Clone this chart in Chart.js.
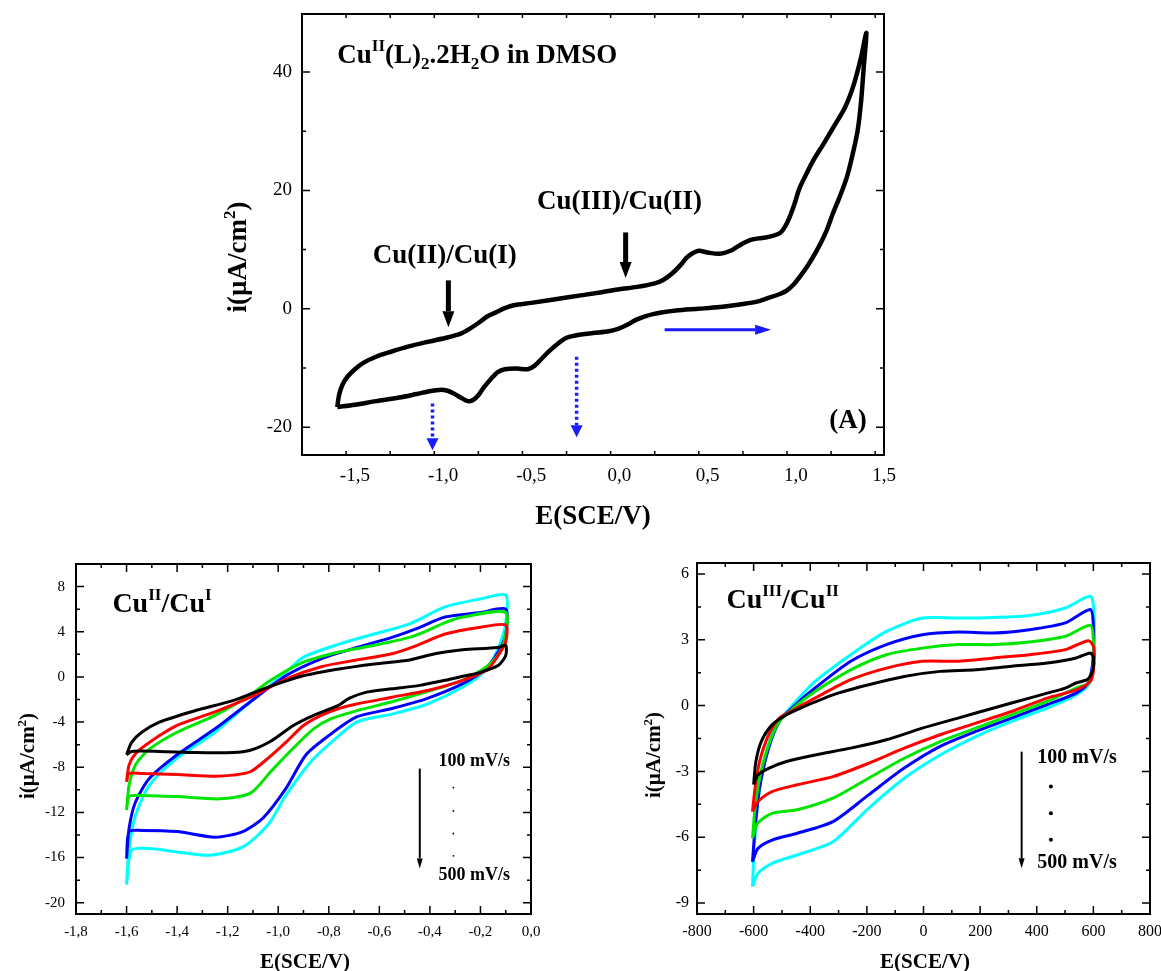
<!DOCTYPE html>
<html>
<head>
<meta charset="utf-8">
<script src="https://cdn.jsdelivr.net/npm/chart.js@4.4.1/dist/chart.umd.min.js"></script>
<style>
  body { margin: 0; background: #fff; overflow: hidden; }
  #wrap { position: relative; width: 1161px; height: 971px; overflow: hidden; }
  canvas { position: absolute; }
</style>
</head>
<body>
<div id="wrap">
  <canvas id="cvA" width="700" height="540" style="left:200px;top:0"></canvas>
  <canvas id="cvB" width="560" height="426" style="left:0;top:545px"></canvas>
  <canvas id="cvC" width="575" height="426" style="left:600px;top:545px"></canvas>
</div>
<script>
// ---- panel A : CV of Cu(II)(L)2.2H2O in DMSO, E (V) / i (uA/cm2) ----
const loopA = [
  [-1.60,-16.6],[-1.50,-16.2],[-1.38,-15.6],[-1.25,-15.0],[-1.15,-14.4],[-1.07,-13.9],[-1.02,-13.7],
  [-0.98,-13.8],[-0.94,-14.3],[-0.90,-15.0],[-0.86,-15.6],[-0.83,-15.4],[-0.80,-14.6],[-0.77,-13.3],
  [-0.73,-11.9],[-0.69,-10.7],[-0.65,-10.2],[-0.58,-10.1],[-0.52,-10.2],[-0.48,-9.6],[-0.44,-8.4],
  [-0.40,-7.2],[-0.35,-5.9],[-0.30,-4.9],[-0.25,-4.5],[-0.15,-4.1],[-0.06,-3.8],[0.00,-3.3],
  [0.05,-2.6],[0.10,-1.8],[0.19,-0.9],[0.32,-0.3],[0.45,0.0],[0.57,0.3],[0.70,0.8],[0.78,1.2],
  [0.84,1.8],[0.91,2.5],[0.95,3.1],[0.99,4.2],[1.02,5.3],[1.07,7.4],[1.12,9.9],[1.17,12.9],
  [1.21,16.1],[1.25,19.0],[1.29,22.3],[1.32,25.8],[1.35,30.0],[1.37,35.0],[1.385,40.8],[1.40,46.6],
  [1.37,42.5],[1.33,38.0],[1.28,34.1],[1.21,30.5],[1.16,28.0],[1.10,25.1],[1.06,22.8],[1.02,20.3],
  [0.99,17.5],[0.95,14.5],[0.91,12.8],[0.84,12.1],[0.79,11.9],[0.74,11.6],[0.68,10.7],[0.63,9.8],
  [0.57,9.3],[0.50,9.5],[0.45,9.8],[0.41,9.3],[0.38,8.6],[0.35,7.5],[0.30,6.0],[0.25,4.9],
  [0.20,4.3],[0.10,3.7],[0.00,3.3],[-0.10,2.8],[-0.30,1.9],[-0.50,1.0],[-0.60,0.6],[-0.65,0.1],
  [-0.70,-0.6],[-0.75,-1.3],[-0.80,-2.4],[-0.85,-3.4],[-0.90,-4.2],[-0.97,-4.8],[-1.09,-5.6],
  [-1.20,-6.4],[-1.30,-7.3],[-1.38,-8.1],[-1.45,-9.1],[-1.50,-10.2],[-1.54,-11.4],[-1.57,-12.8],
  [-1.59,-14.6],[-1.60,-16.6]
];
const ticksAx = [-1.5, -1.0, -0.5, 0.0, 0.5, 1.0, 1.5];
const ticksAy = [-20, 0, 20, 40];
// annotation arrows of panel A: [E, i start, i end]
const blackArrowsA = [[-0.97, 4.8, -3.1], [0.035, 12.9, 5.2]];
const blueDotArrowsA = [[-1.06, -16.0, -23.9], [-0.243, -8.1, -21.7]];
const blueScanArrowA = [0.256, 0.86, -3.56];

// ---- panel B : Cu(II)/Cu(I), 100..500 mV/s ----
const rateLabels = ['100 mV/s', '200 mV/s', '300 mV/s', '400 mV/s', '500 mV/s'];
const rateColors = ['#000000', '#ff0000', '#00e600', '#0000ff', '#00ffff'];
const loopB100 = [
  [-1.60,-6.9],[-1.58,-5.8],[-1.54,-4.9],[-1.47,-4.0],[-1.33,-3.0],[-1.18,-2.1],[-1.04,-0.9],[-0.90,0.1],
  [-0.76,0.7],[-0.62,1.15],[-0.48,1.5],[-0.41,1.9],[-0.34,2.2],[-0.27,2.4],[-0.13,2.6],[-0.10,2.8],
  [-0.10,1.9],[-0.13,1.0],[-0.20,0.4],[-0.27,0.05],[-0.34,-0.3],[-0.44,-0.75],[-0.55,-1.05],[-0.65,-1.35],
  [-0.72,-1.9],[-0.76,-2.5],[-0.86,-3.4],[-0.94,-4.3],[-1.03,-5.7],[-1.11,-6.5],[-1.18,-6.7],[-1.33,-6.7],
  [-1.47,-6.6],[-1.58,-6.6],[-1.60,-6.9]
];
const loopB200 = [
  [-1.60,-9.3],[-1.59,-7.8],[-1.565,-6.8],[-1.51,-5.8],[-1.40,-4.3],[-1.25,-3.1],[-1.11,-1.8],[-0.97,-0.2],
  [-0.83,0.9],[-0.69,1.5],[-0.55,2.05],[-0.45,2.8],[-0.34,3.8],[-0.20,4.4],[-0.10,4.6],
  [-0.10,3.1],[-0.13,1.9],[-0.17,0.7],[-0.27,-0.3],[-0.41,-1.2],[-0.55,-1.8],[-0.69,-2.4],[-0.76,-2.8],
  [-0.83,-3.4],[-0.90,-4.3],[-0.97,-5.8],[-1.04,-7.2],[-1.11,-8.4],[-1.18,-8.7],[-1.25,-8.8],[-1.40,-8.65],
  [-1.54,-8.55],[-1.59,-8.55],[-1.60,-9.3]
];
const loopB300 = [
  [-1.60,-11.8],[-1.59,-9.6],[-1.565,-7.8],[-1.51,-6.4],[-1.40,-4.9],[-1.25,-3.4],[-1.11,-1.6],[-1.03,-0.3],
  [-0.90,1.3],[-0.76,2.2],[-0.62,2.8],[-0.48,3.5],[-0.41,4.1],[-0.34,4.8],[-0.27,5.3],[-0.10,5.7],
  [-0.11,2.8],[-0.155,1.3],[-0.21,0.4],[-0.27,-0.3],[-0.41,-1.3],[-0.55,-2.2],[-0.69,-3.0],[-0.79,-3.7],
  [-0.86,-4.6],[-0.94,-6.3],[-1.03,-8.4],[-1.11,-10.3],[-1.23,-10.8],[-1.40,-10.6],[-1.54,-10.5],
  [-1.59,-10.6],[-1.60,-11.8]
];
const loopB400 = [
  [-1.60,-16.1],[-1.59,-13.4],[-1.565,-11.1],[-1.51,-9.0],[-1.40,-6.9],[-1.25,-4.6],[-1.11,-2.2],[-0.97,0.1],
  [-0.83,1.6],[-0.69,2.6],[-0.55,3.5],[-0.45,4.3],[-0.34,5.3],[-0.20,5.7],[-0.10,6.0],
  [-0.10,3.7],[-0.13,2.2],[-0.18,0.7],[-0.27,-0.6],[-0.41,-1.9],[-0.55,-2.8],[-0.69,-3.55],[-0.80,-5.2],
  [-0.89,-6.9],[-0.97,-9.9],[-1.06,-12.5],[-1.14,-13.7],[-1.25,-14.2],[-1.40,-13.7],[-1.54,-13.6],
  [-1.59,-13.7],[-1.60,-16.1]
];
const loopB500 = [
  [-1.60,-18.4],[-1.59,-15.2],[-1.565,-12.3],[-1.51,-9.6],[-1.40,-7.2],[-1.25,-4.9],[-1.11,-2.2],[-0.97,0.4],
  [-0.90,1.75],[-0.76,2.9],[-0.62,3.8],[-0.48,4.7],[-0.34,6.2],[-0.20,6.9],[-0.10,7.25],
  [-0.10,4.8],[-0.13,2.5],[-0.18,0.6],[-0.27,-0.9],[-0.41,-2.4],[-0.55,-3.3],[-0.69,-4.0],[-0.79,-5.8],
  [-0.87,-7.5],[-0.97,-10.5],[-1.04,-13.1],[-1.14,-15.05],[-1.27,-15.8],[-1.40,-15.5],[-1.51,-15.2],
  [-1.58,-15.35],[-1.60,-18.4]
];
const ticksBx = [-1.8, -1.6, -1.4, -1.2, -1.0, -0.8, -0.6, -0.4, -0.2, 0.0];
const ticksBy = [-20, -16, -12, -8, -4, 0, 4, 8];

// ---- panel C : Cu(III)/Cu(II), E in mV ----
const loopC100 = [
  [-600,-3.6],[-592,-2.55],[-573,-1.64],[-535,-0.88],[-484,-0.42],[-434,-0.11],[-320,0.49],[-194,0.95],
  [-68,1.33],[59,1.56],[185,1.63],[311,1.79],[437,1.94],[539,2.17],[589,2.4],
  [600,2.2],[598,1.6],[580,1.2],[539,1.03],[501,0.8],[437,0.57],[374,0.34],[248,-0.11],[122,-0.57],
  [-4,-1.03],[-131,-1.56],[-257,-1.94],[-383,-2.25],[-484,-2.55],[-547,-2.86],[-585,-3.16],[-600,-3.6]
];
const loopC200 = [
  [-604,-4.83],[-595,-3.77],[-579,-2.55],[-547,-1.33],[-509,-0.57],[-459,-0.19],[-383,0.34],[-257,1.18],
  [-131,1.71],[-4,2.02],[122,2.02],[248,2.17],[374,2.32],[501,2.55],[583,2.96],
  [602,2.62],[600,1.6],[589,1.1],[539,0.72],[437,0.34],[311,-0.27],[185,-0.8],[59,-1.33],[-68,-1.94],
  [-194,-2.63],[-320,-3.24],[-446,-3.61],[-535,-3.92],[-585,-4.38],[-604,-4.83]
];
const loopC300 = [
  [-604,-6.05],[-595,-4.68],[-579,-3.31],[-547,-1.79],[-509,-0.72],[-459,-0.11],[-383,0.64],[-257,1.63],
  [-131,2.32],[-4,2.62],[122,2.78],[248,2.78],[374,2.9],[501,3.16],[589,3.66],
  [600,3.0],[598,1.7],[580,1.0],[539,0.8],[437,0.19],[311,-0.42],[185,-1.03],[59,-1.64],[-68,-2.4],
  [-194,-3.31],[-320,-4.22],[-446,-4.75],[-535,-4.91],[-585,-5.36],[-604,-6.05]
];
const loopC400 = [
  [-604,-7.12],[-595,-5.6],[-579,-3.77],[-547,-1.94],[-509,-0.72],[-459,-0.04],[-383,0.8],[-257,2.02],
  [-131,2.78],[-4,3.23],[122,3.35],[248,3.31],[374,3.46],[501,3.77],[589,4.38],
  [600,3.6],[598,2.0],[580,1.0],[539,0.57],[437,0.04],[311,-0.57],[185,-1.18],[59,-1.86],[-68,-2.85],
  [-194,-4.07],[-320,-5.29],[-446,-5.82],[-535,-6.13],[-585,-6.51],[-604,-7.12]
];
const loopC500 = [
  [-604,-8.25],[-598,-6.51],[-585,-4.38],[-560,-2.4],[-522,-0.88],[-472,-0.11],[-383,1.1],[-257,2.32],
  [-131,3.38],[-4,3.99],[122,3.99],[248,4.02],[374,4.11],[501,4.45],[589,4.98],
  [602,4.3],[600,2.2],[585,1.0],[539,0.49],[437,-0.11],[311,-0.72],[185,-1.41],[59,-2.25],[-68,-3.31],
  [-194,-4.68],[-320,-6.21],[-446,-6.81],[-535,-7.19],[-585,-7.65],[-604,-8.25]
];
const ticksCx = [-800, -600, -400, -200, 0, 200, 400, 600, 800];
const ticksCy = [-9, -6, -3, 0, 3, 6];

const SERIF = '"Liberation Serif", "Times New Roman", serif';

// text with superscripts / subscripts: parts = [[text, ''|'sup'|'sub'], ...]
function drawRich(ctx, parts, x, y, size, align) {
  const font = k => 'bold ' + (k ? Math.round(size * 0.62) : size) + 'px ' + SERIF;
  let w = 0;
  parts.forEach(([t, k]) => { ctx.font = font(k); w += ctx.measureText(t).width; });
  let cx = align === 'center' ? x - w / 2 : x;
  ctx.textAlign = 'left';
  ctx.textBaseline = 'alphabetic';
  ctx.fillStyle = '#000';
  parts.forEach(([t, k]) => {
    ctx.font = font(k);
    const dy = k === 'sup' ? -size * 0.42 : (k === 'sub' ? size * 0.24 : 0);
    ctx.fillText(t, cx, y + dy);
    cx += ctx.measureText(t).width;
  });
}

function arrow(ctx, x0, y0, x1, y1, lw, hl, hw, color, dash) {
  const ang = Math.atan2(y1 - y0, x1 - x0);
  const bx = x1 - Math.cos(ang) * hl, by = y1 - Math.sin(ang) * hl;
  ctx.save();
  ctx.strokeStyle = color; ctx.fillStyle = color; ctx.lineWidth = lw;
  ctx.setLineDash(dash || []);
  ctx.beginPath(); ctx.moveTo(x0, y0); ctx.lineTo(bx, by); ctx.stroke();
  ctx.setLineDash([]);
  ctx.beginPath();
  ctx.moveTo(x1, y1);
  ctx.lineTo(bx + Math.sin(ang) * hw / 2, by - Math.cos(ang) * hw / 2);
  ctx.lineTo(bx - Math.sin(ang) * hw / 2, by + Math.cos(ang) * hw / 2);
  ctx.closePath(); ctx.fill();
  ctx.restore();
}

const yTitle = [['i(µA/cm', ''], ['2', 'sup'], [')', '']];
const xTitle = [['E(SCE/V)', '']];

// frame: box, inward ticks on all four sides, axis titles, extras
function makeFrame(cfg) {
  return {
    id: 'frame',
    afterDatasetsDraw(chart) {
      const { ctx, chartArea: a, scales: { x, y } } = chart;
      ctx.save();
      ctx.strokeStyle = '#000';
      ctx.lineWidth = 1.5;
      const near = (v, arr) => arr.some(t => Math.abs(t - v) < 1e-6);
      for (let v = x.min; v <= x.max + 1e-9; v += cfg.xMinor) {
        const p = x.getPixelForValue(v);
        const len = near(v, cfg.xMajor) ? 8 : 4;
        ctx.beginPath();
        ctx.moveTo(p, a.bottom); ctx.lineTo(p, a.bottom - len);
        ctx.moveTo(p, a.top); ctx.lineTo(p, a.top + len);
        ctx.stroke();
      }
      const y0 = Math.ceil(y.min / cfg.yMinor) * cfg.yMinor;
      for (let v = y0; v <= y.max + 1e-9; v += cfg.yMinor) {
        const p = y.getPixelForValue(v);
        const len = near(v, cfg.yMajor) ? 8 : 4;
        ctx.beginPath();
        ctx.moveTo(a.left, p); ctx.lineTo(a.left + len, p);
        ctx.moveTo(a.right, p); ctx.lineTo(a.right - len, p);
        ctx.stroke();
      }
      ctx.lineWidth = 2;
      ctx.strokeRect(a.left, a.top, a.right - a.left, a.bottom - a.top);
      // axis titles
      drawRich(ctx, xTitle, cfg.xt[0], cfg.xt[1], cfg.titleSize, 'center');
      ctx.save();
      ctx.translate(cfg.yt[0], cfg.yt[1]);
      ctx.rotate(-Math.PI / 2);
      drawRich(ctx, yTitle, 0, cfg.titleSize * 0.35, cfg.titleSize, 'center');
      ctx.restore();
      if (cfg.extra) cfg.extra(ctx, x, y);
      ctx.restore();
    }
  };
}

const comma1 = v => (Math.abs(v) < 1e-9 ? 0 : v).toFixed(1).replace('.', ',');

// axis labels must not push the plot box around
function noPad(s) {
  s.paddingTop = 0; s.paddingBottom = 0; s.paddingLeft = 0; s.paddingRight = 0;
}

function axes(xr, yr, xt, yt, fmtX, size, yW, xH, padX, padY) {
  return {
    x: {
      type: 'linear', position: 'bottom', min: xr[0], max: xr[1],
      grid: { display: false, drawTicks: false }, border: { display: false },
      afterBuildTicks: s => { s.ticks = xt.map(v => ({ value: v })); },
      afterFit: s => { s.height = xH; noPad(s); },
      ticks: { color: '#000', padding: padX, autoSkip: false, maxRotation: 0,
        font: { family: SERIF, size: size }, callback: v => fmtX(v) }
    },
    y: {
      type: 'linear', position: 'left', min: yr[0], max: yr[1],
      grid: { display: false, drawTicks: false }, border: { display: false },
      afterBuildTicks: s => { s.ticks = yt.map(v => ({ value: v })); },
      afterFit: s => { s.width = yW; noPad(s); },
      ticks: { color: '#000', padding: padY, autoSkip: false,
        font: { family: SERIF, size: size }, callback: v => String(v) }
    }
  };
}

function loopSet(label, pts, color, width, tension) {
  return {
    label: label,
    data: pts.map(p => ({ x: p[0], y: p[1] })),
    showLine: true, borderColor: color, backgroundColor: color,
    borderWidth: width, pointRadius: 0, tension: tension, fill: false
  };
}

const common = {
  responsive: false, animation: false, devicePixelRatio: 1,
  plugins: { legend: { display: false }, tooltip: { enabled: false } }
};

// ---------- chart A ----------
new Chart(document.getElementById('cvA'), {
  type: 'scatter',
  data: { datasets: [loopSet('CV', loopA, '#000', 4.5, 0.3)] },
  options: Object.assign({}, common, {
    layout: { padding: { top: 14, right: 16, left: 0, bottom: 0 } },
    scales: axes([-1.8, 1.5], [-24.7, 49.8], ticksAx, ticksAy, comma1, 19, 102, 85, 10, 10)
  }),
  plugins: [makeFrame({
    xMinor: 0.25, yMinor: 10, xMajor: ticksAx, yMajor: ticksAy,
    xt: [393, 524], yt: [37, 257], titleSize: 27,
    extra(ctx, x, y) {
      drawRich(ctx, [['Cu', ''], ['II', 'sup'], ['(L)', ''], ['2', 'sub'], ['.2H', ''], ['2', 'sub'], ['O in DMSO', '']],
        x.getPixelForValue(-1.6), y.getPixelForValue(41.6), 27, 'left');
      drawRich(ctx, [['Cu(III)/Cu(II)', '']], x.getPixelForValue(0.0), y.getPixelForValue(16.9), 27, 'center');
      drawRich(ctx, [['Cu(II)/Cu(I)', '']], x.getPixelForValue(-0.99), y.getPixelForValue(7.75), 27, 'center');
      drawRich(ctx, [['(A)', '']], x.getPixelForValue(1.296), y.getPixelForValue(-20.2), 27, 'center');
      blackArrowsA.forEach(([e, a0, a1]) => {
        const px = x.getPixelForValue(e);
        arrow(ctx, px, y.getPixelForValue(a0), px, y.getPixelForValue(a1), 5, 16, 12, '#000');
      });
      blueDotArrowsA.forEach(([e, a0, a1]) => {
        const px = x.getPixelForValue(e);
        arrow(ctx, px, y.getPixelForValue(a0), px, y.getPixelForValue(a1), 3.5, 12, 12, '#1a1aff', [3, 3]);
      });
      const [e0, e1, iv] = blueScanArrowA;
      arrow(ctx, x.getPixelForValue(e0), y.getPixelForValue(iv), x.getPixelForValue(e1), y.getPixelForValue(iv),
        3, 16, 10, '#1a1aff');
    }
  })]
});

// ---------- chart B ----------
const loopsB = [loopB100, loopB200, loopB300, loopB400, loopB500];
new Chart(document.getElementById('cvB'), {
  type: 'scatter',
  data: { datasets: loopsB.map((l, i) => loopSet(rateLabels[i], l, rateColors[i], 3, 0.25)) },
  options: Object.assign({}, common, {
    layout: { padding: { top: 19, right: 29, left: 0, bottom: 0 } },
    scales: axes([-1.8, 0.0], [-21, 10], ticksBx, ticksBy, comma1, 15, 76, 57, 9, 11)
  }),
  plugins: [makeFrame({
    xMinor: 0.1, yMinor: 2, xMajor: ticksBx, yMajor: ticksBy,
    xt: [305, 423], yt: [27, 211], titleSize: 21,
    extra(ctx, x, y) {
      drawRich(ctx, [['Cu', ''], ['II', 'sup'], ['/Cu', ''], ['I', 'sup']],
        x.getPixelForValue(-1.656), y.getPixelForValue(5.73), 28, 'left');
      drawRich(ctx, [[rateLabels[0], '']], x.getPixelForValue(-0.366), y.getPixelForValue(-7.88), 18, 'left');
      drawRich(ctx, [[rateLabels[4], '']], x.getPixelForValue(-0.366), y.getPixelForValue(-18.0), 18, 'left');
      ctx.fillStyle = '#000';
      [-9.8, -11.87, -13.87, -15.85].forEach(v => {
        ctx.beginPath(); ctx.arc(x.getPixelForValue(-0.307), y.getPixelForValue(v), 0.9, 0, 2 * Math.PI); ctx.fill();
      });
      const px = x.getPixelForValue(-0.44);
      arrow(ctx, px, y.getPixelForValue(-8.12), px, y.getPixelForValue(-16.96), 2, 10, 6, '#000');
    }
  })]
});

// ---------- chart C ----------
const loopsC = [loopC100, loopC200, loopC300, loopC400, loopC500];
new Chart(document.getElementById('cvC'), {
  type: 'scatter',
  data: { datasets: loopsC.map((l, i) => loopSet(rateLabels[i], l, rateColors[i], 3, 0.25)) },
  options: Object.assign({}, common, {
    layout: { padding: { top: 18, right: 25, left: 0, bottom: 0 } },
    scales: axes([-800, 800], [-9.5, 6.5], ticksCx, ticksCy, v => String(v), 16, 97, 57, 8, 8)
  }),
  plugins: [makeFrame({
    xMinor: 100, yMinor: 1.5, xMajor: ticksCx, yMajor: ticksCy,
    xt: [325, 423], yt: [53, 210], titleSize: 21,
    extra(ctx, x, y) {
      drawRich(ctx, [['Cu', ''], ['III', 'sup'], ['/Cu', ''], ['II', 'sup']],
        x.getPixelForValue(-696), y.getPixelForValue(4.45), 28, 'left');
      drawRich(ctx, [[rateLabels[0], '']], x.getPixelForValue(402), y.getPixelForValue(-2.62), 20, 'left');
      drawRich(ctx, [[rateLabels[4], '']], x.getPixelForValue(402), y.getPixelForValue(-7.42), 20, 'left');
      ctx.fillStyle = '#000';
      [-3.69, -4.91, -6.12].forEach(v => {
        ctx.beginPath(); ctx.arc(x.getPixelForValue(450), y.getPixelForValue(v), 2, 0, 2 * Math.PI); ctx.fill();
      });
      const px = x.getPixelForValue(346.6);
      arrow(ctx, px, y.getPixelForValue(-2.1), px, y.getPixelForValue(-7.42), 2, 10, 6, '#000');
    }
  })]
});
</script>
</body>
</html>
